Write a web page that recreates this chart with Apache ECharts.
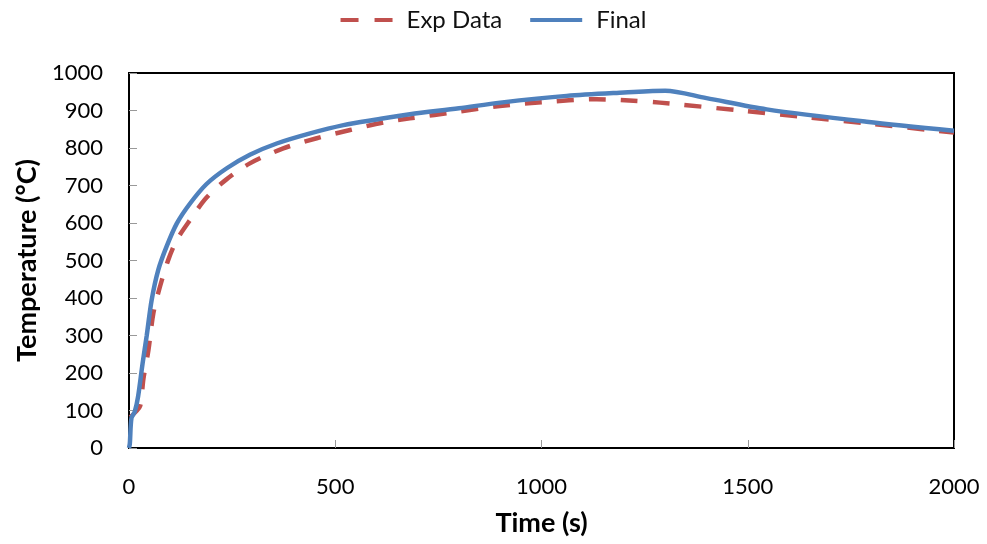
<!DOCTYPE html>
<html>
<head>
<meta charset="utf-8">
<script src="https://cdn.jsdelivr.net/npm/echarts@6/dist/echarts.min.js"></script>
<style>
html,body{margin:0;padding:0;background:#fff;}
#chart{width:987px;height:544px;}
</style>
</head>
<body>
<div id="chart"></div>
<script>
// Data
var expTime = [3, 15, 27, 35, 47, 59, 75, 95, 116, 148, 188, 237, 293, 374, 455, 536, 617, 681, 800, 899, 1000, 1134, 1223, 1287, 1336, 1481, 1643, 1788, 2000];
var expTemp = [82, 95, 112, 185, 260, 359, 430, 501, 555, 608, 668, 717, 759, 799, 826, 848, 868, 879, 897, 912, 922, 930, 926, 921, 916, 900, 882, 866, 841];
var finalTime = [0, 2, 6, 14, 22, 33, 43, 55, 71, 91, 116, 148, 188, 237, 293, 358, 439, 520, 600, 681, 800, 900, 1061, 1200, 1300, 1400, 1546, 1788, 2000];
var finalTemp = [0, 12, 80, 97, 137, 226, 300, 395, 475, 537, 599, 652, 704, 746, 782, 812, 839, 861, 876, 890, 906, 921, 939, 948, 953, 933, 903, 870, 846];
var seriesNames = ['Exp Data', 'Final'];
var xTitle = 'Time (s)';
var yTitle = 'Temperature (°C)';

function pairs(xs, ys) { return xs.map(function (x, i) { return [x, ys[i]]; }); }

var chart = echarts.init(document.getElementById('chart'), null, {renderer: 'canvas'});
var font = 'Lato, "Open Sans", sans-serif';
chart.setOption({
  animation: false,
  textStyle: {fontFamily: font},
  grid: {left: 129, right: 33, top: 73, bottom: 96, show: true, borderColor: '#000', borderWidth: 2, containLabel: false},
  legend: {
    top: 3, left: 'center', itemWidth: 54, itemHeight: 4, itemGap: 28,
    textStyle: {fontFamily: font, fontSize: 24, color: '#111', padding: [0, 0, 0, 8]},
    data: [
      {name: seriesNames[0], icon: 'path://M0,0H18V4H0Z M34,0H52V4H34Z', itemStyle: {color: '#C0504D'}},
      {name: seriesNames[1], icon: 'path://M0,0H52V4H0Z', itemStyle: {color: '#4F81BD'}}
    ]
  },
  xAxis: {
    type: 'value', min: 0, max: 2000, interval: 500,
    name: xTitle, nameLocation: 'middle', nameGap: 62,
    nameTextStyle: {fontFamily: font, fontSize: 27, fontWeight: 'bold', color: '#000'},
    axisLine: {show: true, onZero: false, lineStyle: {color: '#000', width: 2}},
    axisTick: {show: true, inside: true, length: 8, lineStyle: {color: '#999', width: 1}},
    axisLabel: {fontFamily: font, fontSize: 22, color: '#000', margin: 28, formatter: function (v) { return String(v); }},
    splitLine: {show: false}
  },
  yAxis: {
    type: 'value', min: 0, max: 1000, interval: 100,
    name: yTitle, nameLocation: 'middle', nameGap: 87, nameRotate: 90,
    nameTextStyle: {fontFamily: font, fontSize: 27, fontWeight: 'bold', color: '#000'},
    axisLine: {show: true, lineStyle: {color: '#000', width: 2}},
    axisTick: {show: true, inside: true, length: 8, lineStyle: {color: '#999', width: 1}},
    axisLabel: {fontFamily: font, fontSize: 22, color: '#000', margin: 26, formatter: function (v) { return String(v); }},
    splitLine: {show: false}
  },
  series: [
    {
      name: seriesNames[0], type: 'line', data: pairs(expTime, expTemp),
      symbol: 'none', smooth: 0.3, z: 2,
      lineStyle: {color: '#C0504D', width: 4.5, type: [17, 15], cap: 'butt'},
      itemStyle: {color: '#C0504D'}
    },
    {
      name: seriesNames[1], type: 'line', data: pairs(finalTime, finalTemp),
      symbol: 'none', smooth: 0.3, z: 3,
      lineStyle: {color: '#4F81BD', width: 4.5},
      itemStyle: {color: '#4F81BD'}
    }
  ]
});
</script>
</body>
</html>
